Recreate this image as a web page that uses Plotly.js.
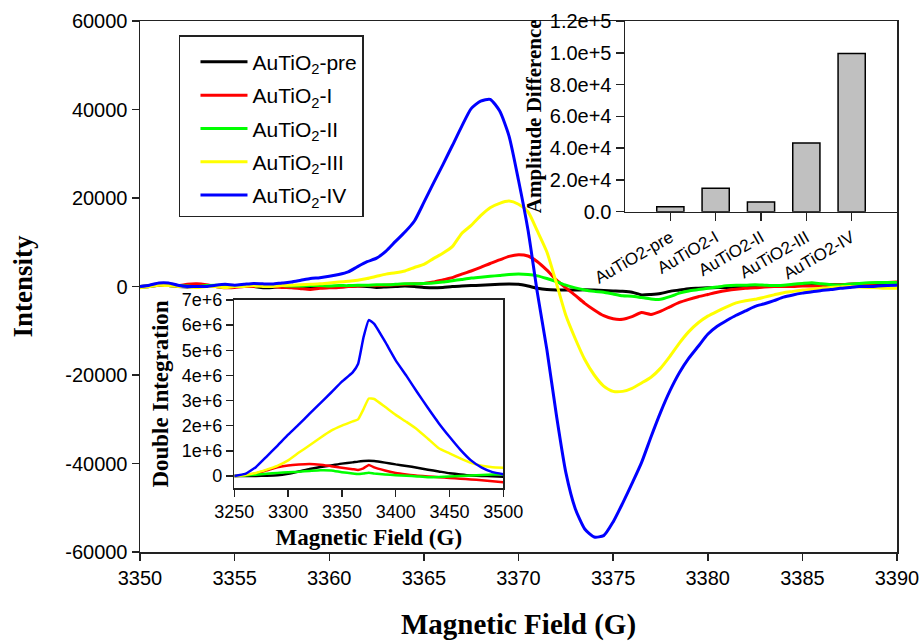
<!DOCTYPE html>
<html><head><meta charset="utf-8">
<script src="https://cdn.plot.ly/plotly-3.0.1.min.js"></script>
<style>html,body{margin:0;padding:0;background:#fff}#chart{width:920px;height:641px}</style>
</head><body><div id="chart"></div>
<script>
// ---------- Main EPR spectra (Intensity vs Magnetic Field) ----------
const field = [3350,3350.5,3351,3351.5,3352,3352.5,3353,3353.5,3354,3354.5,3355,3355.5,3356,3356.5,3357,3357.5,3358,3358.5,3359,3359.5,3360,3360.5,3361,3361.5,3362,3362.5,3363,3363.5,3364,3364.5,3365,3365.5,3366,3366.5,3367,3367.5,3368,3368.5,3369,3369.5,3370,3370.5,3371,3371.5,3372,3372.5,3373,3373.5,3374,3374.5,3375,3375.5,3376,3376.5,3377,3377.5,3378,3378.5,3379,3379.5,3380,3380.5,3381,3381.5,3382,3382.5,3383,3383.5,3384,3384.5,3385,3385.5,3386,3386.5,3387,3387.5,3388,3388.5,3389,3389.5,3390];

const specPre = [-200,0,300,200,0,-100,0,100,0,-200,0,100,0,-300,-200,0,100,0,-100,0,0,-100,0,100,0,-200,-100,0,100,0,-200,-300,-200,0,100,200,300,400,500,550,500,100,-400,-700,-800,-800,-800,-750,-800,-900,-1000,-1100,-1300,-1900,-1800,-1600,-1100,-800,-500,-400,-300,-200,-200,-100,0,0,100,100,200,200,300,300,300,400,400,500,500,600,600,600,600];
const specI = [0,200,400,300,200,500,600,400,0,-300,-200,0,0,200,0,-200,-300,-500,-650,-400,-300,-200,0,100,200,200,300,400,500,600,700,1000,1500,2000,2800,3500,4300,5200,6000,6800,7200,6900,5600,3700,1500,-300,-2000,-3800,-5300,-6600,-7300,-7400,-6800,-5900,-6300,-5600,-4600,-3600,-2900,-2300,-1800,-1300,-900,-600,-400,-300,-100,0,0,0,100,100,200,300,400,500,600,700,800,900,1000];
const specII = [0,200,500,400,200,100,0,200,300,200,200,300,200,200,300,200,100,100,200,200,100,200,200,300,300,400,400,500,600,600,700,800,1000,1300,1600,1900,2100,2300,2500,2700,2800,2700,2400,1800,1100,300,-300,-800,-1100,-1300,-1700,-2100,-2200,-2500,-2800,-2900,-2300,-1500,-1000,-700,-400,-100,200,300,300,400,300,200,300,500,700,850,600,400,350,500,700,850,900,900,900];
const specIII = [-300,0,300,200,0,0,-200,0,0,-200,0,0,200,0,0,200,300,400,500,600,800,1000,1200,1400,1800,2300,2800,3100,3500,4300,5000,6300,7500,9000,12000,13800,16000,17800,18800,19300,18600,16900,12500,7800,800,-6500,-11800,-16500,-20000,-22500,-23700,-23700,-23000,-21800,-20500,-18500,-15800,-12800,-10200,-8200,-6700,-5600,-4600,-3700,-3200,-2900,-2400,-1900,-1400,-1100,-800,-600,-400,-200,-100,0,-100,-200,-300,-400,-400];
const specIV = [0,300,800,800,300,0,0,0,300,500,300,500,700,600,550,800,1000,1400,1800,2000,2300,2700,3300,4500,5600,6400,8000,10200,12300,14800,19000,23300,27500,31800,36200,40200,41900,42300,39700,34000,24000,12800,-1500,-14300,-29000,-42000,-50200,-54800,-56600,-56300,-53200,-49000,-44500,-39800,-34000,-28500,-23600,-19500,-16200,-13500,-10800,-9000,-7700,-6500,-5500,-4500,-3900,-3200,-2400,-1900,-1500,-1200,-900,-700,-400,-200,0,0,100,200,300];

const seriesNames = ['AuTiO<sub>2</sub>-pre','AuTiO<sub>2</sub>-I','AuTiO<sub>2</sub>-II','AuTiO<sub>2</sub>-III','AuTiO<sub>2</sub>-IV'];
const seriesColors = ['#000000','#ff0000','#00ff00','#ffff00','#0000ff'];

// ---------- Inset: Amplitude Difference bar chart ----------
const barCategories = ['AuTiO2-pre','AuTiO2-I','AuTiO2-II','AuTiO2-III','AuTiO2-IV'];
const amplitudeDiff = [3100, 14800, 6100, 43300, 99600];

// ---------- Inset: Double Integration ----------
const fieldDI = [3250,3260,3270,3280,3290,3300,3310,3320,3330,3340,3350,3360,3365,3370,3375,3380,3390,3400,3410,3420,3430,3440,3450,3460,3470,3480,3490,3500];
const diPre = [0,0,0,0.01e6,0.03e6,0.09e6,0.18e6,0.28e6,0.36e6,0.42e6,0.49e6,0.54e6,0.57e6,0.59e6,0.60e6,0.59e6,0.53e6,0.46e6,0.40e6,0.33e6,0.25e6,0.18e6,0.11e6,0.06e6,0.02e6,0,-0.01e6,-0.03e6];
const diI = [0,0.03e6,0.10e6,0.22e6,0.34e6,0.42e6,0.46e6,0.48e6,0.45e6,0.39e6,0.33e6,0.27e6,0.24e6,0.30e6,0.44e6,0.34e6,0.22e6,0.12e6,0.06e6,0.01e6,-0.02e6,-0.05e6,-0.08e6,-0.11e6,-0.14e6,-0.17e6,-0.21e6,-0.25e6];
const diII = [0,0.02e6,0.05e6,0.09e6,0.12e6,0.15e6,0.17e6,0.20e6,0.23e6,0.22e6,0.15e6,0.10e6,0.08e6,0.10e6,0.13e6,0.10e6,0.06e6,0.03e6,0.01e6,-0.02e6,-0.05e6,-0.04e6,-0.02e6,0,0.02e6,0.04e6,0.06e6,0.07e6];
const diIII = [0,0.04e6,0.12e6,0.25e6,0.40e6,0.62e6,0.93e6,1.22e6,1.52e6,1.80e6,2.00e6,2.17e6,2.25e6,2.65e6,3.08e6,3.06e6,2.75e6,2.43e6,2.15e6,1.85e6,1.48e6,1.10e6,0.90e6,0.70e6,0.52e6,0.41e6,0.35e6,0.33e6];
const diIV = [0,0.08e6,0.35e6,0.77e6,1.20e6,1.64e6,2.05e6,2.48e6,2.90e6,3.32e6,3.75e6,4.12e6,4.45e6,5.50e6,6.20e6,6.05e6,5.35e6,4.60e6,3.98e6,3.33e6,2.70e6,2.10e6,1.56e6,1.05e6,0.62e6,0.33e6,0.15e6,0.07e6];

// ---------- Tick labels ----------
const mainYTickVals = [60000,40000,20000,0,-20000,-40000,-60000];
const mainYTickText = ['60000','40000','20000','0','-20000','-40000','-60000'];
const barYTickVals = [0,20000,40000,60000,80000,100000,120000];
const barYTickText = ['0.0','2.0e+4','4.0e+4','6.0e+4','8.0e+4','1.0e+5','1.2e+5'];
const diYTickVals = [0,1e6,2e6,3e6,4e6,5e6,6e6,7e6];
const diYTickText = ['0','1e+6','2e+6','3e+6','4e+6','5e+6','6e+6','7e+6'];

const SANS = 'Liberation Sans, Arial, sans-serif';
const SERIF = 'Liberation Serif, Times New Roman, serif';
const AX = '#222222';

const mainSeries = [specPre, specI, specII, specIII, specIV];
const diSeries = [diPre, diI, diII, diIII, diIV];

const traces = [];
mainSeries.forEach((ys, i) => {
  traces.push({
    type: 'scatter', mode: 'lines', x: field, y: ys,
    name: seriesNames[i], legendgroup: 'g' + i,
    line: {color: seriesColors[i], width: 3, shape: 'spline', smoothing: 0.6},
    xaxis: 'x', yaxis: 'y', hoverinfo: 'skip'
  });
});
traces.push({
  type: 'bar', x: barCategories, y: amplitudeDiff, width: 0.6,
  marker: {color: '#c0c0c0', line: {color: '#000000', width: 1.5}},
  xaxis: 'x2', yaxis: 'y2', showlegend: false, hoverinfo: 'skip'
});
diSeries.forEach((ys, i) => {
  traces.push({
    type: 'scatter', mode: 'lines', x: fieldDI, y: ys,
    line: {color: seriesColors[i], width: 2.5, shape: 'spline', smoothing: 0.4},
    xaxis: 'x3', yaxis: 'y3', showlegend: false, hoverinfo: 'skip'
  });
});

const layout = {
  width: 920, height: 641,
  margin: {l: 140, r: 23, t: 21, b: 89},
  paper_bgcolor: '#ffffff', plot_bgcolor: '#ffffff',
  font: {family: SANS, size: 20, color: '#000'},
  showlegend: true,
  legend: {
    x: 0.0515, y: 0.9736, xanchor: 'left', yanchor: 'top',
    bgcolor: '#ffffff', bordercolor: AX, borderwidth: 1.5,
    font: {family: SANS, size: 21, color: '#000'},
    title: {text: ' ', font: {size: 4}},
    traceorder: 'grouped', tracegroupgap: 3,
    itemwidth: 47, indentation: 15
  },
  xaxis: {
    domain: [0, 1], range: [3350, 3390], dtick: 5, tick0: 3350,
    showgrid: false, zeroline: false, showline: true, linecolor: AX, linewidth: 1.5,
    mirror: true, ticks: 'outside', ticklen: 7, tickwidth: 1.5, tickcolor: AX,
    tickfont: {family: SANS, size: 20, color: '#000'},
    title: {text: 'Magnetic Field (G)', font: {family: SERIF, size: 29, color: '#000', weight: 'bold'}, standoff: 30}
  },
  yaxis: {
    domain: [0, 1], range: [-60000, 60000],
    tickmode: 'array', tickvals: mainYTickVals, ticktext: mainYTickText,
    showgrid: false, zeroline: false, showline: true, linecolor: AX, linewidth: 1.5,
    mirror: true, ticks: 'outside', ticklen: 7, tickwidth: 1.5, tickcolor: AX,
    tickfont: {family: SANS, size: 20, color: '#000'},
    title: {text: 'Intensity', font: {family: SERIF, size: 27, color: '#000', weight: 'bold'}, standoff: 25}
  },
  xaxis2: {
    domain: [0.6407, 1], range: [-1, 5], type: 'category', anchor: 'y2',
    showgrid: false, zeroline: false, showline: true, linecolor: AX, linewidth: 1.5,
    mirror: true, ticks: 'outside', ticklen: 8, tickwidth: 1.5, tickcolor: AX,
    tickangle: -30, tickfont: {family: SANS, size: 17, color: '#000'}
  },
  yaxis2: {
    domain: [0.6409, 1], range: [0, 120000], anchor: 'x2',
    tickmode: 'array', tickvals: barYTickVals, ticktext: barYTickText,
    showgrid: false, zeroline: false, showline: true, linecolor: AX, linewidth: 1.5,
    mirror: true, ticks: 'outside', ticklen: 8, tickwidth: 1.5, tickcolor: AX,
    tickfont: {family: SANS, size: 20, color: '#000'},
    title: {text: 'Amplitude Difference', font: {family: SERIF, size: 21, color: '#000', weight: 'bold'}, standoff: 2}
  },
  xaxis3: {
    domain: [0.1246, 0.4799], range: [3250, 3500], dtick: 50, tick0: 3250, anchor: 'y3',
    showgrid: false, zeroline: false, showline: true, linecolor: AX, linewidth: 1.5,
    mirror: true, ticks: 'outside', ticklen: 7, tickwidth: 1.5, tickcolor: AX,
    tickfont: {family: SANS, size: 18, color: '#000'},
    title: {text: 'Magnetic Field (G)', font: {family: SERIF, size: 23, color: '#000', weight: 'bold'}, standoff: 8}
  },
  yaxis3: {
    domain: [0.1205, 0.4746], range: [-480000, 7000000], anchor: 'x3',
    tickmode: 'array', tickvals: diYTickVals, ticktext: diYTickText,
    showgrid: false, zeroline: false, showline: true, linecolor: AX, linewidth: 1.5,
    mirror: true, ticks: 'outside', ticklen: 7, tickwidth: 1.5, tickcolor: AX,
    tickfont: {family: SANS, size: 18, color: '#000'},
    title: {text: 'Double Integration', font: {family: SERIF, size: 23, color: '#000', weight: 'bold'}, standoff: 6}
  }
};

Plotly.newPlot('chart', traces, layout, {staticPlot: true, displayModeBar: false});
</script>
</body></html>
